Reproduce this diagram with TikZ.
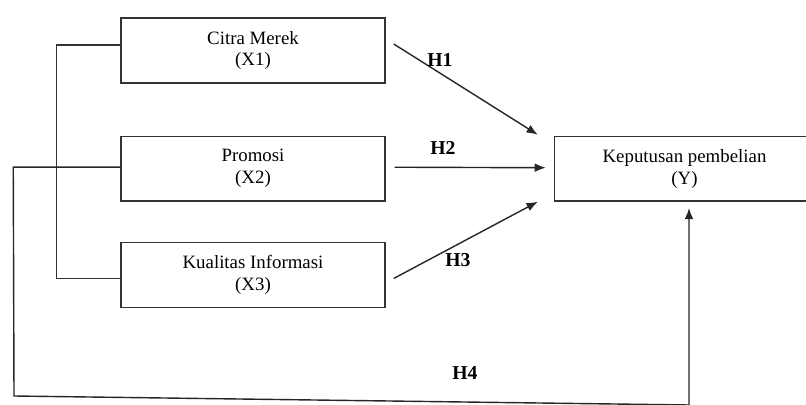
\documentclass[tikz,border=0pt]{standalone}
\usepackage{fontspec}
\setmainfont{Liberation Serif}
\usetikzlibrary{positioning,arrows.meta}

\begin{document}
\begin{tikzpicture}[x=0.025cm,y=0.025cm]
		\tikzstyle{main}=[rectangle, minimum width=6.6cm, minimum height=1.62cm, line width=1pt, draw=black!80, align=center, font=\fontsize{13.4}{15.6}\selectfont]
		\tikzstyle{connect}=[-{Latex[length=2.8mm,width=2.2mm]}, line width=1pt, draw=black!85]
		\tikzstyle{line}=[line width=1pt, draw=black!80]
		\tikzstyle{hyp}=[font=\fontsize{14}{16}\selectfont\bfseries]
		\useasboundingbox (0,0) rectangle (806,405);
		\node[main] (x1) at (253,354.5) {Citra Merek\\(X1)};
		\node[main] (x2) [below=1.3cm of x1] {Promosi\\(X2)};
		\node[main] (x3) [below=1cm of x2] {Kualitas Informasi\\(X3)};
		\node[main, minimum width=6.5cm] (y) [right=4.2cm of x2] {Keputusan pembelian\\(Y)};
		\coordinate (b1) at (14,9);
		\coordinate (b2) at (689,0);
		\coordinate (t4) at (689,197);
		\draw[line] ([yshift=0.14cm]x1.west) -- ++(-64,0) |- ([yshift=-0.09cm]x3.west);
		\draw[connect] ([yshift=0.04cm]x2.west) -- ++(-107,0) -- (b1) -- (b2) -- (t4);
		\draw[connect] ([shift={(8,6.5)}]x1.east) -- ([shift={(-16,34)}]y.west);
		\draw[connect] ([shift={(9,1.5)}]x2.east) -- ([shift={(-8,1)}]y.west);
		\draw[connect] ([shift={(8,-3.5)}]x3.east) -- ([shift={(-16,-33)}]y.west);
		\node[hyp] (h1) at (440,345) {H1};
		\node[hyp] (h2) at (443,257) {H2};
		\node[hyp] (h3) at (458,145) {H3};
		\node[hyp] (h4) at (465,32) {H4};
\end{tikzpicture}
\end{document}
